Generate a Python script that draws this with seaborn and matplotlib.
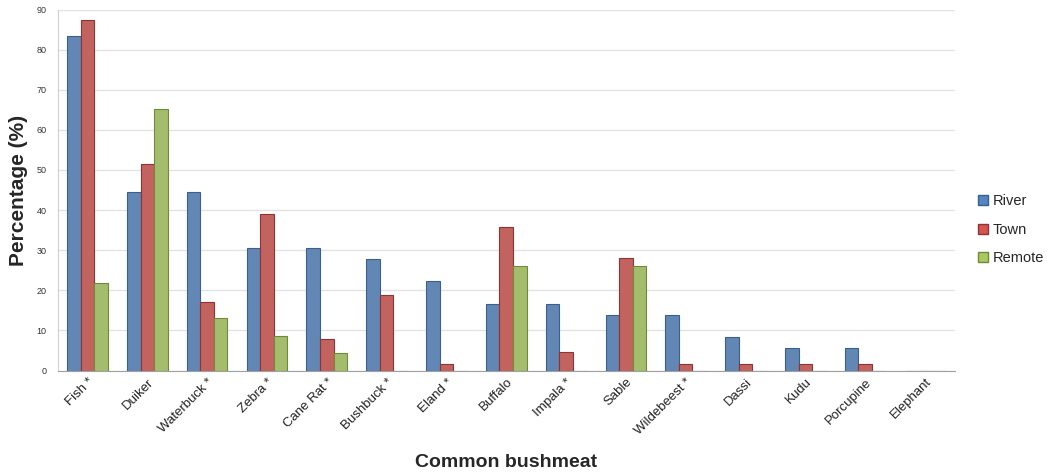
import numpy as np
import pandas as pd
import seaborn as sns
from matplotlib import pyplot as plt
from matplotlib.patches import Patch

species = ["Fish *", "Duiker", "Waterbuck *", "Zebra *", "Cane Rat *", "Bushbuck *",
           "Eland *", "Buffalo", "Impala *", "Sable", "Wildebeest *", "Dassi",
           "Kudu", "Porcupine", "Elephant"]
river = [83.3, 44.4, 44.4, 30.6, 30.6, 27.8, 22.2, 16.7, 16.7, 13.9, 13.9, 8.3, 5.6, 5.6, 0]
town = [87.5, 51.5, 17.2, 39.0, 7.8, 18.8, 1.6, 35.9, 4.7, 28.1, 1.6, 1.6, 1.6, 1.6, 0]
remote = [21.8, 65.2, 13.0, 8.7, 4.3, 0, 0, 26.1, 0, 26.1, 0, 0, 0, 0, 0]
groups = ["River", "Town", "Remote"]
colors = ["#5585C2", "#D4544F", "#A9CB5E"]
edges = ["#3A6090", "#8E3432", "#6E8A3A"]

df = pd.DataFrame({"species": species * 3,
                   "group": np.repeat(groups, len(species)),
                   "value": river + town + remote})

sns.set_style("white")
plt.rcParams['font.family'] = ['Liberation Sans', 'DejaVu Sans']

fig, ax = plt.subplots(figsize=(10.47, 4.75), dpi=100)
sns.barplot(data=df, x="species", y="value", hue="group", palette=colors,
            width=0.68, gap=0, ax=ax, legend=False)

# darker outline per series
for bars, ec in zip(ax.containers, edges):
    for b in bars:
        b.set_edgecolor(ec)
        b.set_linewidth(0.8)

ax.set_ylim(0, 90)
ax.set_yticks(range(0, 91, 10))
ax.set_xlim(-0.5, len(species) - 0.5)
ax.yaxis.grid(True, color="#e3e3e3", linewidth=1)
ax.set_axisbelow(True)
for s in ["top", "right"]:
    ax.spines[s].set_visible(False)
ax.spines["left"].set_color("#d0d0d0")
ax.spines["bottom"].set_color("#a0a0a0")

ax.tick_params(axis="y", labelsize=6.5, colors="#333333", length=0, pad=8)
ax.set_xticks(np.arange(len(species)))
ax.set_xticklabels(species, rotation=45, ha="right", rotation_mode="anchor",
                   fontsize=9.5, color="#222222")
ax.tick_params(axis="x", length=0, pad=4)
ax.set_xticks(np.arange(-0.5, len(species)), minor=True)
ax.tick_params(axis="x", which="minor", length=4, color="#a0a0a0", direction="out")

ax.set_ylabel("Percentage (%)", fontsize=15, fontweight="bold", labelpad=6)
ax.set_xlabel("Common bushmeat", fontsize=14, fontweight="bold", labelpad=12)

handles = [Patch(facecolor=c, edgecolor=e, label=g) for c, e, g in zip(colors, edges, groups)]
ax.legend(handles=handles, loc="center left", bbox_to_anchor=(1.016, 0.39), frameon=False,
          fontsize=10.5, handlelength=0.7, handleheight=0.7, handletextpad=0.3, labelspacing=1.0,
          borderaxespad=0.2)

plt.subplots_adjust(left=0.055, right=0.912, top=0.98, bottom=0.22)
plt.savefig("out.png", dpi=100)
